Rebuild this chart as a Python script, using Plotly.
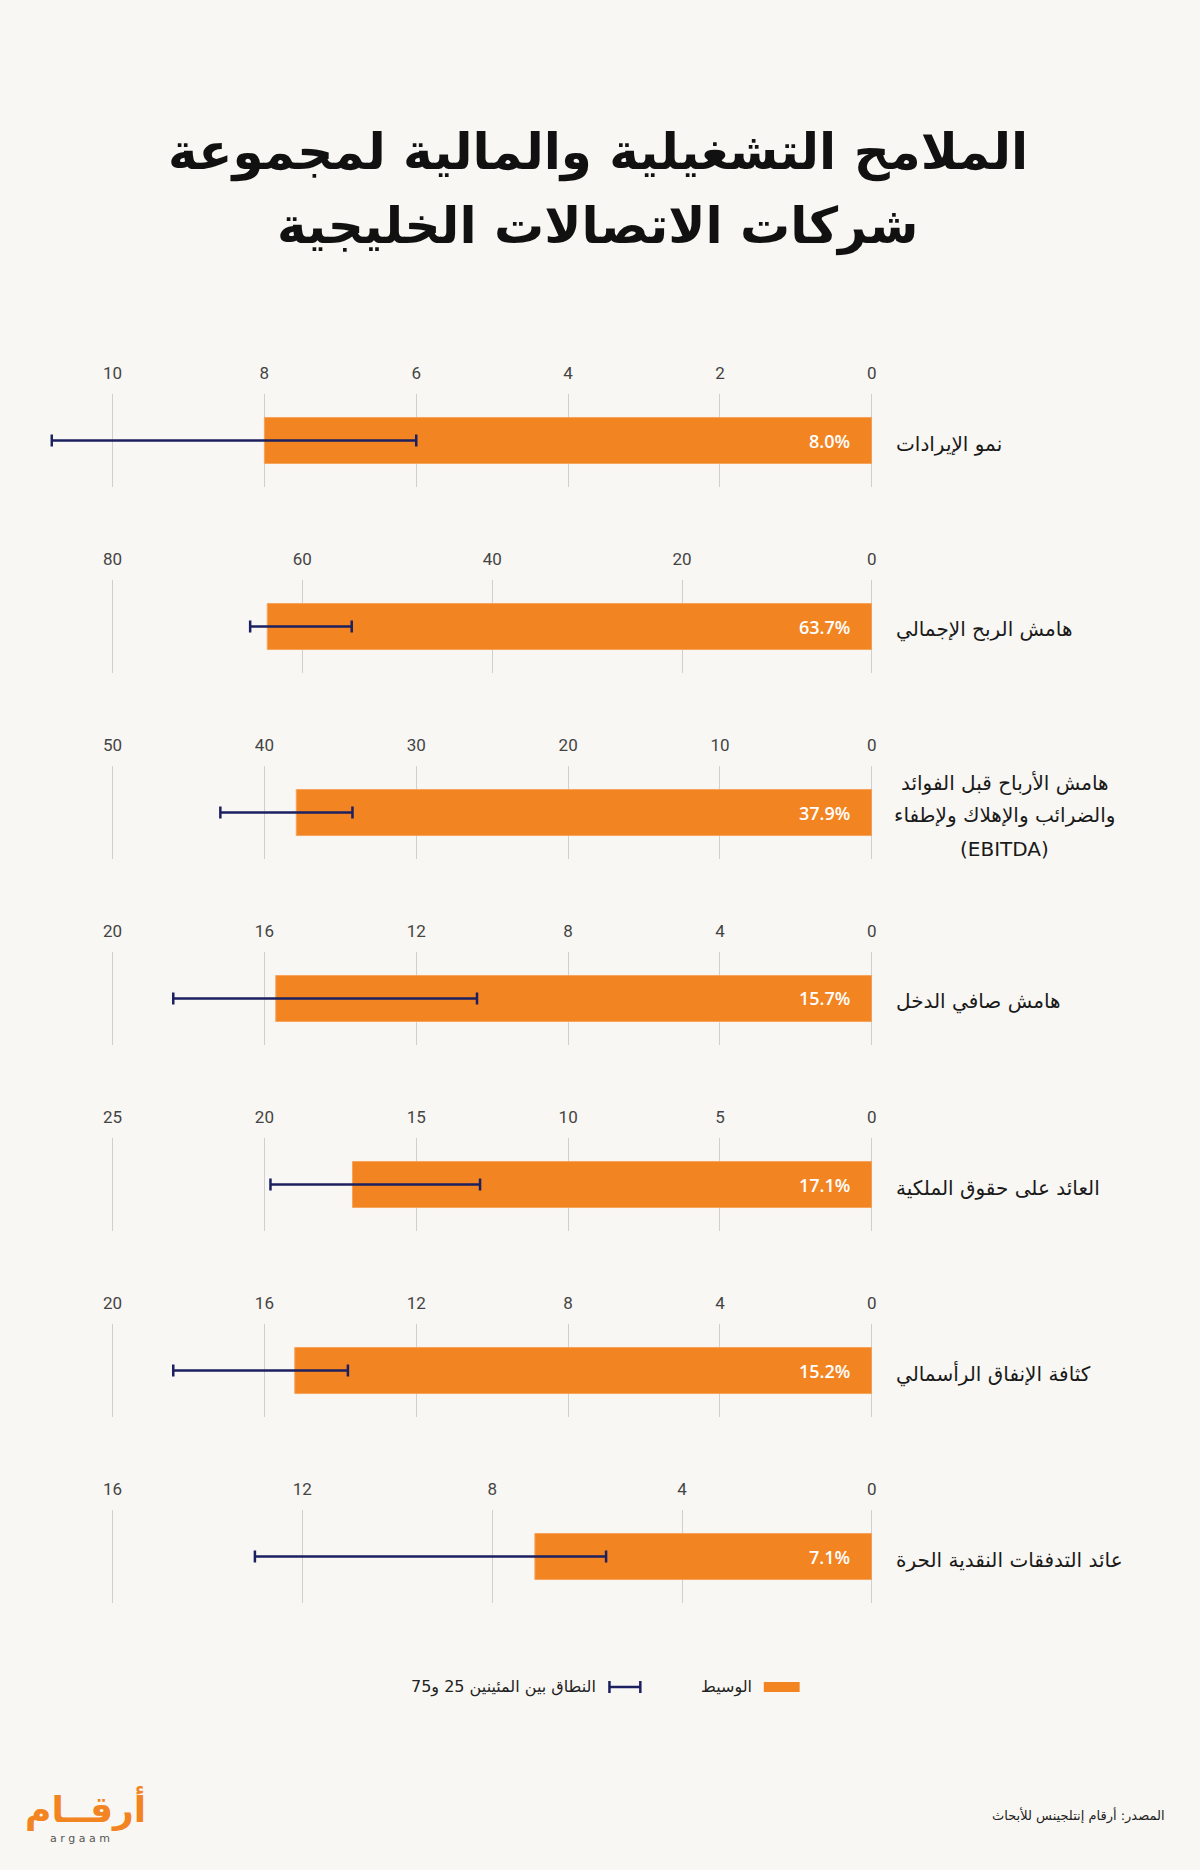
import plotly.graph_objects as go

# ---------------- data ----------------
categories = [
    "نمو الإيرادات",
    "هامش الربح الإجمالي",
    "هامش الأرباح قبل الفوائد<br>والضرائب والإهلاك ولإطفاء<br>(EBITDA)",
    "هامش صافي الدخل",
    "العائد على حقوق الملكية",
    "كثافة الإنفاق الرأسمالي",
    "عائد التدفقات النقدية الحرة",
]
median = [8.0, 63.7, 37.9, 15.7, 17.1, 15.2, 7.1]
p25 = [6.0, 54.8, 34.2, 10.4, 12.9, 13.8, 5.6]
p75 = [10.8, 65.5, 42.9, 18.4, 19.8, 18.4, 13.0]
axis_max = [10, 80, 50, 20, 25, 20, 16]
axis_step = [2, 20, 10, 4, 5, 4, 4]

title_lines = ["الملامح التشغيلية والمالية لمجموعة", "شركات الاتصالات الخليجية"]
legend_median = "الوسيط"
legend_range = "النطاق بين المئينين 25 و75"
source_text = "المصدر: أرقام إنتلجينس للأبحاث"

# ---------------- style ----------------
W, H = 1200, 1870
BG = "#F9F7F3"
ORANGE = "#F38422"
NAVY = "#1D2060"
GRID = "#CFCFCF"
AR_FONT = "DejaVu Sans"
NUM_FONT = "Liberation Sans Narrow, Roboto, sans-serif"

X0_PX = 875.5      # pixel of value 0
XMAXTICK_PX = 113  # pixel of the largest tick
LEFT_PX = 30       # left edge of plot area


def py(px):
    return 1 - px / H


fig = go.Figure()
layout = dict(
    width=W, height=H,
    margin=dict(l=0, r=0, t=0, b=0),
    paper_bgcolor=BG, plot_bgcolor=BG,
    showlegend=False,
    annotations=[], shapes=[],
)

for k in range(len(categories)):
    T = 394 + 186 * k
    B = 487 + 186 * k
    xa = "x" if k == 0 else f"x{k+1}"
    ya = "y" if k == 0 else f"y{k+1}"
    xkey = "xaxis" if k == 0 else f"xaxis{k+1}"
    ykey = "yaxis" if k == 0 else f"yaxis{k+1}"
    rmax = axis_max[k] * (X0_PX - LEFT_PX) / (X0_PX - XMAXTICK_PX)

    fig.add_trace(go.Bar(
        x=[median[k]], y=[0], orientation="h", width=0.495,
        marker=dict(color=ORANGE, line=dict(color="#F7A45E", width=1)),
        error_x=dict(type="data", symmetric=False,
                     array=[p75[k] - median[k]],
                     arrayminus=[median[k] - p25[k]],
                     color=NAVY, thickness=2.5, width=6),
        xaxis=xa, yaxis=ya, hoverinfo="skip",
    ))

    layout[xkey] = dict(
        domain=[LEFT_PX / W, X0_PX / W],
        anchor=ya, side="top",
        range=[rmax, 0],
        tick0=0, dtick=axis_step[k],
        showgrid=True, gridcolor=GRID, gridwidth=1,
        zeroline=True, zerolinecolor=GRID, zerolinewidth=1,
        showline=False,
        ticks="outside", ticklen=7, tickcolor="rgba(0,0,0,0)",
        tickfont=dict(family=NUM_FONT, size=17, color="#444444"),
        fixedrange=True,
    )
    layout[ykey] = dict(
        domain=[py(B), py(T)], anchor=xa,
        range=[-0.5, 0.5], showgrid=False, zeroline=False,
        showticklabels=False, fixedrange=True,
    )

    # value label inside the bar
    layout["annotations"].append(dict(
        x=0, y=0, xref=xa, yref=ya, xanchor="right", yanchor="middle",
        xshift=-20, text=f"{median[k]:.1f}%", showarrow=False,
        font=dict(family="Open Sans", size=18, color="white", weight=600),
    ))
    # category label (multi-line labels: each line centred within the block)
    lines = categories[k].split("<br>")
    cy = (T + B) / 2 + 3
    if len(lines) == 1:
        layout["annotations"].append(dict(
            x=898 / W, y=py(cy), xref="paper", yref="paper",
            xanchor="left", yanchor="middle",
            text=lines[0], showarrow=False,
            font=dict(family=AR_FONT, size=20, color="#1A1A1A"),
        ))
    else:
        gap = 33
        start = cy - gap * (len(lines) - 1) / 2
        for j, ln in enumerate(lines):
            layout["annotations"].append(dict(
                x=1009 / W, y=py(start + j * gap), xref="paper", yref="paper",
                xanchor="center", yanchor="middle",
                text=ln, showarrow=False,
                font=dict(family=AR_FONT, size=20, color="#1A1A1A"),
            ))

# title
for line, ypx in zip(title_lines, [153, 226]):
    layout["annotations"].append(dict(
        x=0.5, y=py(ypx), xref="paper", yref="paper",
        xanchor="center", yanchor="middle", text=f"<b>{line}</b>",
        showarrow=False, font=dict(family=AR_FONT, size=50, color="#111111"),
    ))

# legend (right-to-left, drawn manually)
LY = 1687
layout["shapes"].append(dict(type="rect", xref="paper", yref="paper",
                             x0=767 / W, x1=803 / W, y0=py(1692), y1=py(1682),
                             fillcolor=ORANGE, line=dict(width=0)))
layout["annotations"].append(dict(
    x=757 / W, y=py(LY), xref="paper", yref="paper", xanchor="right",
    yanchor="middle", text=legend_median, showarrow=False,
    font=dict(family=AR_FONT, size=16, color="#222222")))
for seg in [(612, LY, 643, LY), (612, LY - 6, 612, LY + 6), (643, LY - 6, 643, LY + 6)]:
    layout["shapes"].append(dict(type="line", xref="paper", yref="paper",
                                 x0=seg[0] / W, y0=py(seg[1]), x1=seg[2] / W, y1=py(seg[3]),
                                 line=dict(color=NAVY, width=2.5)))
layout["annotations"].append(dict(
    x=600 / W, y=py(LY), xref="paper", yref="paper", xanchor="right",
    yanchor="middle", text=legend_range, showarrow=False,
    font=dict(family=AR_FONT, size=16, color="#222222")))

# source
layout["annotations"].append(dict(
    x=1172 / W, y=py(1815), xref="paper", yref="paper", xanchor="right",
    yanchor="middle", text=source_text, showarrow=False,
    font=dict(family=AR_FONT, size=13, color="#222222")))

# logo
layout["annotations"].append(dict(
    x=86 / W, y=py(1808), xref="paper", yref="paper", xanchor="center",
    yanchor="middle", text="<b>أرقــام</b>", showarrow=False,
    font=dict(family=AR_FONT, size=36, color=ORANGE)))
layout["annotations"].append(dict(
    x=80 / W, y=py(1838), xref="paper", yref="paper", xanchor="center",
    yanchor="middle", text="a r g a a m", showarrow=False,
    font=dict(family="DejaVu Sans", size=11, color="#555555")))

fig.update_layout(**layout)
fig.write_html(
    "out.html",
    config={"displayModeBar": False, "staticPlot": True},
    post_script="document.body.style.margin='0';document.body.style.background='#F9F7F3';",
)
